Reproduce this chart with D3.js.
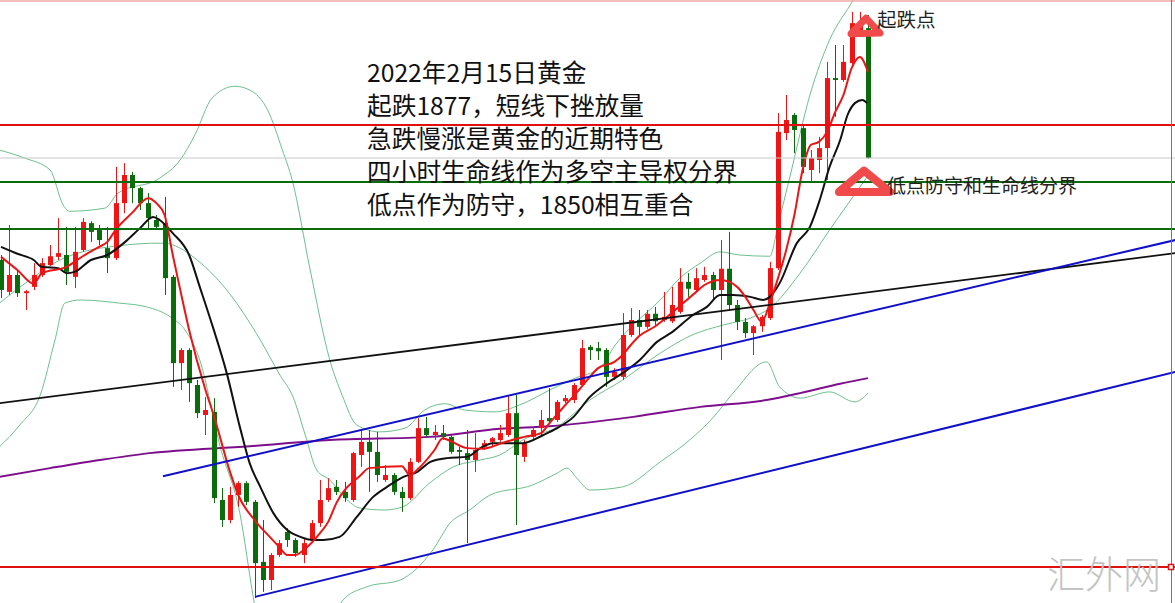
<!DOCTYPE html>
<html><head><meta charset="utf-8">
<script src="https://cdn.jsdelivr.net/npm/d3@7"></script>
<style>html,body{margin:0;padding:0;background:#fff;overflow:hidden}</style>
</head><body>
<svg id="c" width="1175" height="603"></svg>
<script>
// ---- candle data (4H gold) ----
const opens = [1838.4,1833.3,1836.0,1833.1,1834.1,1836.0,1837.6,1838.9,1839.2,1835.7,
 1840.0,1844.3,1843.2,1840.3,1838.7,1847.5,1852.0,1849.9,1847.5,1844.8,
 1844.3,1835.7,1821.9,1824.0,1818.4,1813.6,1814.1,1800.0,1796.8,1800.8,
 1802.7,1799.7,1790.1,1787.2,1791.2,1794.9,1793.6,1791.2,1793.6,1796.3,
 1800.0,1802.1,1801.3,1800.0,1807.2,1809.3,1807.7,1803.2,1804.0,1801.3,
 1800.3,1806.1,1811.5,1810.4,1810.7,1810.1,1808.0,1807.5,1806.4,1808.5,
 1809.3,1809.6,1810.4,1813.9,1806.9,1810.1,1811.5,1813.1,1812.8,1815.8,
 1816.0,1818.4,1824.5,1824.3,1824.0,1819.7,1819.7,1826.4,1828.8,1827.7,
 1829.8,1828.8,1828.6,1830.1,1834.9,1833.6,1835.2,1836.0,1833.6,1837.0,
 1831.2,1828.5,1826.7,1827.8,1829.1,1837.1,1858.7,1861.6,1859.5,1852.8,
 1854.4,1856.3,1867.5,1867.2,1869.9,1875.2,1875.5];
const highs = [1839.2,1844.0,1836.8,1833.6,1837.9,1838.7,1840.8,1845.1,1843.7,1843.7,
 1845.1,1844.6,1844.0,1843.7,1853.3,1853.9,1852.5,1850.1,1849.1,1845.6,
 1848.5,1836.0,1824.3,1824.3,1819.2,1816.5,1816.3,1801.9,1802.1,1803.0,
 1803.0,1800.0,1796.8,1791.5,1793.6,1795.5,1793.9,1793.9,1796.8,1803.2,
 1803.5,1803.2,1802.9,1807.7,1811.2,1811.2,1810.9,1805.6,1804.3,1802.1,
 1806.7,1813.1,1813.3,1812.0,1812.0,1810.4,1808.5,1811.2,1810.7,1809.6,
 1810.1,1812.0,1816.8,1816.8,1809.6,1811.5,1814.4,1817.9,1816.0,1816.8,
 1818.7,1825.6,1824.8,1825.3,1824.3,1821.1,1829.9,1830.7,1830.4,1830.4,
 1830.9,1833.3,1834.1,1837.1,1836.3,1837.1,1837.3,1836.5,1841.6,1842.9,
 1832.0,1829.1,1828.0,1829.6,1838.1,1861.9,1864.8,1861.9,1860.0,1856.0,
 1858.1,1870.1,1872.8,1872.8,1878.1,1878.1,1877.6];
const lows = [1832.3,1832.8,1832.5,1830.4,1833.6,1835.7,1837.4,1838.4,1834.4,1833.9,
 1839.7,1841.3,1840.8,1836.3,1838.4,1845.9,1847.5,1846.4,1843.2,1843.5,
 1832.8,1818.1,1817.6,1815.7,1813.1,1810.4,1799.5,1795.7,1796.3,1798.9,
 1799.2,1784.3,1785.3,1785.6,1790.9,1792.5,1790.9,1789.9,1793.1,1795.7,
 1799.7,1800.8,1799.7,1799.7,1805.3,1801.3,1802.9,1802.9,1800.8,1798.1,
 1800.0,1805.9,1810.1,1809.6,1809.6,1807.4,1805.6,1793.1,1804.5,1808.0,
 1808.5,1809.3,1810.1,1796.0,1806.1,1809.6,1810.1,1812.3,1812.5,1815.5,
 1815.5,1818.1,1822.4,1822.4,1818.1,1819.2,1819.2,1826.1,1826.4,1827.4,
 1828.0,1828.5,1828.3,1829.8,1832.5,1833.3,1834.9,1832.0,1822.4,1830.4,
 1827.2,1825.9,1823.2,1826.9,1828.8,1836.8,1857.6,1855.5,1852.3,1850.9,
 1852.3,1851.2,1861.3,1866.9,1869.6,1874.4,1854.6];
const closes = [1833.6,1836.0,1833.1,1833.4,1836.0,1837.9,1839.0,1839.5,1836.5,1839.7,
 1844.5,1842.9,1841.6,1838.7,1847.5,1852.0,1849.9,1847.5,1845.1,1843.7,
 1835.5,1821.9,1824.0,1818.7,1813.9,1814.4,1800.3,1796.8,1800.8,1802.7,
 1799.7,1789.9,1787.2,1791.2,1793.1,1793.6,1791.5,1793.1,1796.3,1800.0,
 1801.9,1801.3,1800.3,1807.5,1809.3,1807.7,1804.0,1804.0,1801.3,1800.3,
 1806.1,1811.5,1810.4,1810.9,1810.1,1807.7,1807.7,1806.4,1808.0,1809.1,
 1809.9,1810.7,1813.9,1807.2,1809.1,1811.2,1812.8,1812.6,1815.7,1816.3,
 1818.4,1824.3,1824.0,1823.8,1819.7,1820.5,1826.4,1828.8,1827.7,1829.8,
 1828.6,1829.3,1831.2,1834.9,1833.8,1835.5,1836.0,1833.6,1837.0,1831.2,
 1828.5,1826.7,1827.8,1829.3,1837.1,1858.9,1860.8,1859.2,1853.3,1854.7,
 1856.3,1867.5,1867.2,1870.1,1876.3,1876.5,1854.7];

// ---- indicator lines: [candle index, price] ----
const maFast = [[0,1838.9],[2,1836.8],[4,1834.6],[5,1836.3],[8,1837.3],[10,1839.0],[12,1840.5],[13,1841.3],[14,1843.2],[16,1845.9],[18,1848.3],[19,1847.5],[20,1845.6],[21,1839.2],[22,1833.1],[23,1827.2],[25,1817.6],[26,1813.6],[28,1804.5],[29,1800.8],[31,1796.8],[33,1793.9],[34,1792.5],[35,1791.2],[36,1791.2],[37,1792.0],[39,1794.7],[40,1796.5],[41,1799.5],[44,1804.0],[45,1805.1],[49,1805.4],[50,1804.0],[51,1805.0],[53,1808.0],[54,1809.9],[55,1809.4],[57,1808.3],[59,1808.2],[60,1808.5],[61,1809.0],[64,1810.1],[66,1810.7],[67,1812.2],[69,1815.2],[70,1816.6],[72,1819.7],[73,1821.1],[75,1822.1],[76,1823.2],[77,1824.8],[78,1826.2],[80,1827.8],[82,1829.9],[85,1833.3],[86,1834.4],[88,1835.2],[90,1834.1],[91,1832.5],[92,1830.4],[93,1828.5],[94,1831.5],[95,1835.5],[96,1840.0],[97,1845.6],[98,1852.8],[99,1856.8],[100,1857.3],[101,1858.9],[102,1862.1],[103,1864.8],[104,1869.1],[105,1870.9],[106,1868.5]];
const maSlow = [[0,1840.5],[2,1839.4],[4,1838.4],[5,1837.3],[7,1837.1],[8,1836.3],[9,1836.5],[11,1838.4],[13,1839.2],[15,1841.1],[17,1843.5],[18.6,1845.3],[19.4,1844.8],[21,1842.7],[23,1839.2],[24.3,1834.1],[25.9,1827.7],[27.6,1820.3],[29.2,1811.7],[30.4,1805.9],[31.7,1802.1],[33.3,1797.9],[35,1795.2],[36.6,1794.1],[38.1,1793.6],[39.4,1793.6],[41.4,1794.1],[43.5,1797.3],[45.5,1800.5],[47.2,1802.1],[49.2,1803.7],[50.9,1804.5],[52.5,1806.1],[54.5,1806.7],[57,1806.9],[58.6,1808.3],[60.1,1809.1],[63.8,1809.1],[66.3,1810.4],[68,1811.5],[70,1813.3],[72,1816.5],[74.1,1818.7],[76,1820.3],[78.1,1822.4],[80.2,1825.3],[82.1,1826.9],[84.6,1829.6],[86.3,1830.9],[87.9,1832.8],[89.5,1832.8],[91.6,1832.5],[93.2,1832.0],[94.0,1832.5],[95.2,1834.7],[97.3,1841.1],[98.9,1843.7],[100.1,1848.0],[101.3,1853.3],[102.6,1857.6],[103.5,1861.6],[104.4,1863.5],[105.3,1864.0],[105.9,1863.5]];
const bandUpper = [[-0.2,1856.0],[2.9,1854.7],[6.0,1852.8],[7.6,1847.2],[8.4,1846.2],[12.7,1846.7],[14.3,1849.1],[19.4,1851.5],[21.9,1854.4],[23.7,1858.4],[25.8,1864.3],[28.6,1866.2],[30.4,1865.6],[32.6,1862.4],[34.4,1856.0],[35.6,1851.2],[37.8,1836.8],[40.2,1822.4],[41.7,1816.8],[43.5,1812.0],[46.3,1810.9],[49.4,1811.5],[51.8,1814.4],[54.3,1815.4],[56.7,1814.4],[60.4,1814.1],[63.4,1815.2],[67.1,1817.6],[70.2,1819.5],[73.2,1821.1],[75.1,1824.8],[76.9,1827.5],[80.6,1832.0],[83.0,1835.5],[85.5,1837.9],[87.9,1839.7],[90.3,1839.2],[94.0,1839.0],[95.0,1844.0],[96.5,1852.0],[98.9,1864.8],[101.3,1873.6],[104.2,1880.0],[106.2,1884.8]];
const bandMiddle = [[-0.2,1831.5],[3.5,1835.2],[7.2,1838.4],[10.9,1840.0],[13.9,1840.6],[17.0,1841.0],[19.8,1841.1],[21.9,1840.3],[23.5,1838.9],[25.6,1836.5],[27.6,1833.6],[29.8,1829.6],[31.7,1825.6],[34.1,1820.0],[35.7,1816.5],[37.2,1810.4],[38.6,1804.8],[40.2,1803.2],[42.1,1800.3],[43.9,1798.7],[46.9,1798.4],[49.1,1798.9],[52.4,1802.7],[55.3,1805.3],[58.6,1806.4],[61.0,1807.2],[63.8,1809.6],[68.0,1811.7],[72.0,1816.0],[76.0,1819.2],[80.6,1823.5],[84.5,1826.4],[88.3,1828.0],[91.6,1829.1],[94.0,1830.7],[97.7,1836.3],[101.3,1843.2],[105.9,1851.7]];
const bandLower = [[-0.2,1808.5],[2.3,1812.0],[4.8,1816.8],[6.6,1825.6],[7.8,1831.5],[9.7,1832.0],[14.5,1831.5],[17.8,1830.9],[20.7,1829.3],[22.5,1827.2],[24.3,1822.4],[26.8,1808.5],[29.2,1797.9],[30.9,1784.0],[32.3,1774.4],[36.6,1768.0],[41.8,1784.0],[44.7,1786.1],[48.8,1787.2],[52.8,1792.0],[54.9,1796.3],[57.3,1798.4],[59.8,1800.8],[65.0,1802.4],[68.0,1804.3],[69.2,1805.1],[70.4,1803.5],[72.0,1801.6],[76.0,1802.1],[80.6,1806.1],[84.2,1809.6],[87.0,1813.1],[89.5,1817.1],[93.6,1822.1],[95.2,1818.1],[97.7,1816.3],[101.3,1817.3],[104.4,1815.7],[106.0,1817.1]];
const maLong = [[-0.2,1803.7],[6.0,1805.1],[12.1,1806.4],[18.2,1807.5],[30.4,1808.6],[40.2,1809.6],[52.4,1810.1],[61.0,1811.4],[67.1,1811.8],[77.3,1813.3],[85.5,1814.9],[93.6,1816.0],[97.7,1817.1],[102.6,1818.6],[106.0,1819.5]];
const trendBlack = [[-0.2,1815.5],[143.6,1839.5]];
const trendBlueUpper = [[19.8,1803.8],[143.6,1841.6]];
const trendBlueLower = [[31.05,1784.5],[143.6,1820.5]];
const levelsRed = [1860.0,1789.28];
const levelsGreen = [1850.88,1843.36];
const levelCurrent = 1854.72;
const levelTop = 1879.84;
const noteLines = ["2022年2月15日黄金","起跌1877，短线下挫放量","急跌慢涨是黄金的近期特色","四小时生命线作为多空主导权分界","低点作为防守，1850相互重合"];
const labelTop = "起跌点";
const labelLow = "低点防守和生命线分界";
const watermark = "汇外网";

const W = 1175, H = 603;
const svg = d3.select("#c");
const x = d3.scaleLinear().domain([0,106]).range([1,868]);
const y = d3.scaleLinear().domain([1783.52,1880]).range([H,0]);
const FONT = "'Noto Sans CJK SC','Noto Sans',sans-serif";

const line = d3.line().x(d=>x(d[0])).y(d=>y(d[1]));
const smooth = d3.line().x(d=>x(d[0])).y(d=>y(d[1])).curve(d3.curveMonotoneX);

const g = svg.append("g");
// bollinger bands
[bandUpper,bandMiddle,bandLower].forEach(b=>{
  g.append("path").attr("d",smooth(b)).attr("fill","none").attr("stroke","#6fbf8e").attr("stroke-width",1);
});
// long MA
g.append("path").attr("d",smooth(maLong)).attr("fill","none").attr("stroke","#7d0f8c").attr("stroke-width",2);

// candles
const data = opens.map((o,i)=>({i,o,h:highs[i],l:lows[i],c:closes[i]}));
const cg = g.append("g");
data.forEach(d=>{
  const cx = Math.round(x(d.i));
  const col = d.c >= d.o ? "#f01414" : "#0b6c0b";
  cg.append("line").attr("x1",cx+0.5).attr("x2",cx+0.5).attr("y1",y(d.h)).attr("y2",y(d.l)).attr("stroke",col).attr("stroke-width",1);
  const top = y(Math.max(d.o,d.c)), bot = y(Math.min(d.o,d.c));
  cg.append("rect").attr("x",cx-2).attr("y",top).attr("width",5).attr("height",Math.max(1.5,bot-top)).attr("fill",col);
});

// MAs
g.append("path").attr("d",smooth(maSlow)).attr("fill","none").attr("stroke","#111").attr("stroke-width",2);
g.append("path").attr("d",smooth(maFast)).attr("fill","none").attr("stroke","#e81616").attr("stroke-width",2);

// trend lines
g.append("path").attr("d",line(trendBlack)).attr("stroke","#111").attr("stroke-width",1.8).attr("fill","none");
g.append("path").attr("d",line(trendBlueUpper)).attr("stroke","#1010c8").attr("stroke-width",2).attr("fill","none");
g.append("path").attr("d",line(trendBlueLower)).attr("stroke","#1010c8").attr("stroke-width",2).attr("fill","none");

// horizontal levels
g.append("line").attr("x1",0).attr("x2",W).attr("y1",y(levelTop)).attr("y2",y(levelTop)).attr("stroke","#f2a8a8").attr("stroke-width",1.5);
g.append("line").attr("x1",0).attr("x2",W).attr("y1",y(levelCurrent)).attr("y2",y(levelCurrent)).attr("stroke","#c8c8c8").attr("stroke-width",1);
levelsGreen.forEach(v=>g.append("line").attr("x1",0).attr("x2",W).attr("y1",y(v)).attr("y2",y(v)).attr("stroke","#0b6c0b").attr("stroke-width",2));
levelsRed.forEach(v=>g.append("line").attr("x1",0).attr("x2",W).attr("y1",y(v)).attr("y2",y(v)).attr("stroke","#e01010").attr("stroke-width",2));

// right border and marker
g.append("line").attr("x1",1171.5).attr("x2",1171.5).attr("y1",0).attr("y2",H).attr("stroke","#777").attr("stroke-width",1);
g.append("rect").attr("x",1168.5).attr("y",y(levelsRed[1])-2.5).attr("width",5).attr("height",5).attr("fill","#fff").attr("stroke","#e01010").attr("stroke-width",1.5);

// note text
noteLines.forEach((t,k)=>{
  g.append("text").attr("x",367).attr("y",82+33*k).attr("font-family",FONT).attr("font-size",24.7).attr("fill","#111").text(t);
});

// annotations
const lastX = x(106);
g.append("path").attr("d",d3.line()([[lastX-17,y(1874.6)],[lastX-2,y(1877.1)],[lastX+12,y(1874.7)]])+"Z")
  .attr("fill","none").attr("stroke","#f04a4a").attr("stroke-width",7).attr("stroke-linejoin","round");
g.append("path").attr("d",d3.line()([[lastX-29,y(1849.3)],[lastX-4,y(1852.7)],[lastX+22,y(1849.3)]])+"Z")
  .attr("fill","none").attr("stroke","#f04a4a").attr("stroke-width",8).attr("stroke-linejoin","round");
g.append("text").attr("x",877).attr("y",27).attr("font-family",FONT).attr("font-size",19.5).attr("fill","#222").text(labelTop);
g.append("text").attr("x",887).attr("y",193).attr("font-family",FONT).attr("font-size",19).attr("fill","#222").text(labelLow);

// watermark
g.append("text").attr("x",1047).attr("y",588).attr("font-family",FONT).attr("font-weight",300).attr("font-size",38).attr("fill","#c4c4c4").text(watermark);
</script>
</body></html>
